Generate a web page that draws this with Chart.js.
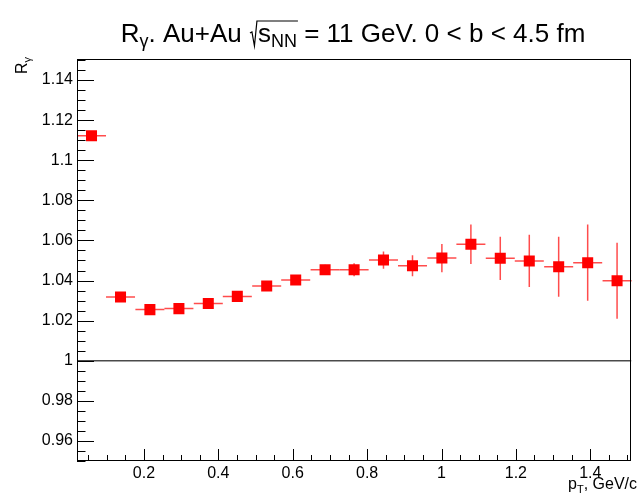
<!DOCTYPE html>
<html>
<head>
<meta charset="utf-8">
<script src="https://cdn.jsdelivr.net/npm/chart.js@4.4.0/dist/chart.umd.min.js"></script>
<style>
  html, body { margin: 0; padding: 0; background: #fff; }
  #wrap { width: 639px; height: 496px; }
</style>
</head>
<body>
<div id="wrap"><canvas id="rgChart" width="639" height="496"></canvas></div>
<script>
// Datos: R_gamma vs p_T (Au+Au, sqrt(s_NN) = 11 GeV, 0 < b < 4.5 fm)
const ptValues = [0.059, 0.137, 0.216, 0.294, 0.373, 0.451, 0.530, 0.608, 0.687, 0.765,
                  0.844, 0.922, 1.001, 1.079, 1.158, 1.236, 1.315, 1.393, 1.472];
const rGamma = [1.1122, 1.0318, 1.0255, 1.0260, 1.0285, 1.0321, 1.0373, 1.0403, 1.0454, 1.0454,
                1.0502, 1.0474, 1.0512, 1.0581, 1.0511, 1.0498, 1.0469, 1.0489, 1.0399];
const rGammaErr = [0.0015, 0.0015, 0.0015, 0.0015, 0.0015, 0.0015, 0.002, 0.002, 0.0025, 0.0032,
                   0.0043, 0.0052, 0.007, 0.0099, 0.0108, 0.013, 0.015, 0.019, 0.019];
const binHalfWidth = 0.039;
const unityLine = 1;

const xTicks = [0.2, 0.4, 0.6, 0.8, 1.0, 1.2, 1.4];
const xTickLabels = ['0.2', '0.4', '0.6', '0.8', '1', '1.2', '1.4'];
const yTicks = [0.96, 0.98, 1.0, 1.02, 1.04, 1.06, 1.08, 1.1, 1.12, 1.14];
const yTickLabels = ['0.96', '0.98', '1', '1.02', '1.04', '1.06', '1.08', '1.1', '1.12', '1.14'];

const FONT = '"Liberation Sans", Arial, Helvetica, sans-serif';
const font = sz => sz + 'px ' + FONT;

// Texto con subíndices: ancho total
function richWidth(ctx, parts) {
    let w = 0;
    parts.forEach(p => {
        if (p.gap) { w += p.gap; return; }
        ctx.font = font(p.sz);
        w += ctx.measureText(p.t).width;
    });
    return w;
}

function drawRich(ctx, parts, x0, base) {
    let x = x0;
    const spans = [];
    parts.forEach(p => {
        if (p.gap) { spans.push({ x0: x, x1: x + p.gap, p }); x += p.gap; return; }
        ctx.font = font(p.sz);
        ctx.fillText(p.t, x, base + (p.dy || 0));
        const w = ctx.measureText(p.t).width;
        spans.push({ x0: x, x1: x + w, p });
        x += w;
    });
    return spans;
}

const rootStyle = {
    id: 'rootStyle',
    beforeDatasetsDraw(chart) {
        const { ctx, chartArea: a, scales: { x, y } } = chart;
        ctx.save();
        // línea en R = 1
        const yu = y.getPixelForValue(unityLine);
        ctx.strokeStyle = '#4a4a4a';
        ctx.lineWidth = 1.5;
        ctx.beginPath();
        ctx.moveTo(a.left, yu);
        ctx.lineTo(a.right, yu);
        ctx.stroke();

        // barras de error
        ctx.strokeStyle = 'rgba(255, 0, 0, 0.7)';
        ctx.lineWidth = 1.5;
        ptValues.forEach((pt, i) => {
            const px = x.getPixelForValue(pt);
            const py = y.getPixelForValue(rGamma[i]);
            ctx.beginPath();
            ctx.moveTo(x.getPixelForValue(pt - binHalfWidth), py);
            ctx.lineTo(x.getPixelForValue(pt + binHalfWidth), py);
            ctx.moveTo(px, y.getPixelForValue(rGamma[i] - rGammaErr[i]));
            ctx.lineTo(px, y.getPixelForValue(rGamma[i] + rGammaErr[i]));
            ctx.stroke();
        });
        ctx.restore();
    },
    afterDraw(chart) {
        const { ctx, chartArea: a, scales: { x, y } } = chart;
        ctx.save();
        // marco
        ctx.strokeStyle = '#000';
        ctx.lineWidth = 1;
        ctx.strokeRect(Math.round(a.left) + 0.5, Math.round(a.top) - 0.5,
                       Math.round(a.right - a.left) - 1, Math.round(a.bottom - a.top));

        // marcas del eje Y (hacia dentro)
        const yMajLen = 17, yMinLen = 8.5;
        ctx.beginPath();
        for (let k = 0; k <= 40; k++) {
            const v = 0.95 + k * 0.005;
            const py = Math.round(y.getPixelForValue(v)) + 0.5;
            const major = yTicks.some(t => Math.abs(t - v) < 1e-6);
            ctx.moveTo(a.left, py);
            ctx.lineTo(a.left + (major ? yMajLen : yMinLen), py);
        }
        // marcas del eje X
        const xMajLen = 12, xMinLen = 6;
        for (let k = 1; k <= 30; k++) {
            const v = k * 0.05;
            if (v < x.min || v > x.max) continue;
            const px = Math.round(x.getPixelForValue(v)) + 0.5;
            const major = xTicks.some(t => Math.abs(t - v) < 1e-6);
            ctx.moveTo(px, a.bottom);
            ctx.lineTo(px, a.bottom - (major ? xMajLen : xMinLen));
        }
        ctx.stroke();

        ctx.fillStyle = '#000';
        ctx.textBaseline = 'alphabetic';

        // título
        const S = 26, s = 18;
        const titleParts = [
            { t: 'R', sz: S }, { t: 'γ', sz: s, dy: 5 }, { t: '. Au+Au ', sz: S },
            { gap: 9 },
            { t: 's', sz: S }, { t: 'NN', sz: s, dy: 5 },
            { t: ' = 11 GeV. 0 < b < 4.5 fm', sz: S }
        ];
        const tw = richWidth(ctx, titleParts);
        const base = 42;
        const spans = drawRich(ctx, titleParts, 353 - tw / 2, base);
        const rad = spans[3], overEnd = spans[5].x1 + 1;
        ctx.lineWidth = 1.2;
        ctx.beginPath();
        ctx.moveTo(rad.x0 + 1, base - 9);
        ctx.lineTo(rad.x0 + 3, base - 10);
        ctx.lineTo(rad.x0 + 5.5, base + 4);
        ctx.lineTo(rad.x1 - 1, base - 21);
        ctx.lineTo(overEnd, base - 21);
        ctx.stroke();

        // título eje Y (rotado)
        const yParts = [{ t: 'R', sz: 16 }, { t: 'γ', sz: 11, dy: 4 }];
        ctx.translate(27, 57);
        ctx.rotate(-Math.PI / 2);
        drawRich(ctx, yParts, -richWidth(ctx, yParts), 0);
        ctx.setTransform(1, 0, 0, 1, 0, 0);

        // título eje X
        const xParts = [{ t: 'p', sz: 16 }, { t: 'T', sz: 11, dy: 4 }, { t: ', GeV/c', sz: 16 }];
        drawRich(ctx, xParts, 637 - richWidth(ctx, xParts), 489);
        ctx.restore();
    }
};

new Chart(document.getElementById('rgChart'), {
    type: 'scatter',
    data: {
        datasets: [{
            label: 'R_gamma',
            data: ptValues.map((pt, i) => ({ x: pt, y: rGamma[i] })),
            backgroundColor: '#ff0000',
            borderWidth: 0,
            pointStyle: 'rect',
            pointRadius: 7.8,
            pointHoverRadius: 7.8
        }]
    },
    options: {
        responsive: false,
        animation: false,
        events: [],
        layout: { padding: { top: 60, right: 2, left: 0, bottom: 0 } },
        plugins: {
            legend: { display: false },
            tooltip: { enabled: false },
            title: { display: false }
        },
        scales: {
            x: {
                type: 'linear',
                min: 0.02,
                max: 1.51,
                grid: { display: false, drawTicks: false },
                border: { display: false },
                afterBuildTicks: axis => { axis.ticks = xTicks.map(v => ({ value: v })); },
                afterFit: axis => { axis.height = 35; },
                ticks: {
                    padding: 3,
                    maxRotation: 0,
                    autoSkip: false,
                    color: '#000',
                    font: { family: FONT, size: 16 },
                    callback: v => xTickLabels[xTicks.findIndex(t => Math.abs(t - v) < 1e-6)]
                }
            },
            y: {
                type: 'linear',
                min: 0.95,
                max: 1.15,
                grid: { display: false, drawTicks: false },
                border: { display: false },
                afterBuildTicks: axis => { axis.ticks = yTicks.map(v => ({ value: v })); },
                afterFit: axis => { axis.width = 77; },
                ticks: {
                    padding: 4,
                    autoSkip: false,
                    color: '#000',
                    font: { family: FONT, size: 16 },
                    callback: v => yTickLabels[yTicks.findIndex(t => Math.abs(t - v) < 1e-6)]
                }
            }
        }
    },
    plugins: [rootStyle]
});
</script>
</body>
</html>
